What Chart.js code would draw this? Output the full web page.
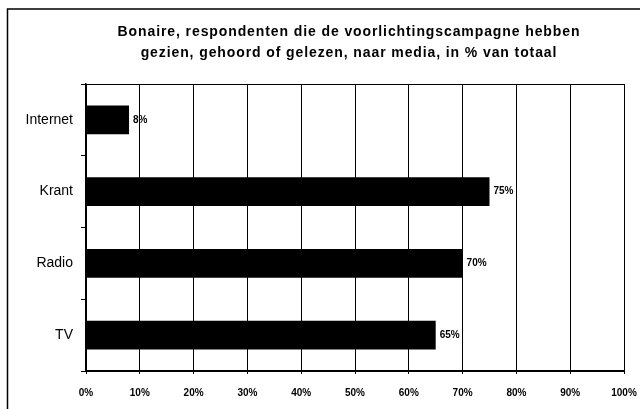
<!DOCTYPE html>
<html>
<head>
<meta charset="utf-8">
<script src="https://cdn.jsdelivr.net/npm/chart.js@4"></script>
<style>
  html, body { margin: 0; padding: 0; background: #fff; }
  #wrap { width: 640px; height: 409px; }
</style>
</head>
<body>
<div id="wrap"><canvas id="mediaChart" width="640" height="409"></canvas></div>
<script>
const titleLines = [
    'Bonaire, respondenten die de voorlichtingscampagne hebben',
    'gezien, gehoord of gelezen, naar media, in % van totaal'
];
const media = ['Internet', 'Krant', 'Radio', 'TV'];
const percentages = [8, 75, 70, 65];

// frame round the whole picture, top border of the plot, title and value labels
const extras = {
    id: 'extras',
    beforeDraw(chart) {
        const ctx = chart.ctx;
        ctx.save();
        ctx.strokeStyle = '#000';
        ctx.lineWidth = 1.5;
        ctx.beginPath();
        ctx.moveTo(7.5, 409);
        ctx.lineTo(7.5, 9);
        ctx.lineTo(640, 9);
        ctx.stroke();
        ctx.restore();
    },
    afterDraw(chart) {
        const ctx = chart.ctx;
        const area = chart.chartArea;
        ctx.save();
        ctx.strokeStyle = '#000';
        ctx.lineWidth = 1;
        ctx.beginPath();
        ctx.moveTo(area.left, area.top + 0.5);
        ctx.lineTo(area.right, area.top + 0.5);
        ctx.stroke();

        ctx.fillStyle = '#000';
        ctx.textAlign = 'center';
        ctx.textBaseline = 'middle';
        ctx.font = 'bold 14px Arial, "Liberation Sans", sans-serif';
        ctx.letterSpacing = '0.9px';
        const cx = (area.left + area.right) / 2 - 6;
        ctx.fillText(titleLines[0], cx, 32);
        ctx.fillText(titleLines[1], cx, 53);

        ctx.letterSpacing = '0px';
        ctx.font = 'bold 10px Arial, "Liberation Sans", sans-serif';
        ctx.textAlign = 'left';
        chart.getDatasetMeta(0).data.forEach((bar, i) => {
            ctx.fillText(percentages[i] + '%', bar.x + 4, bar.y);
        });
        ctx.restore();
    }
};

new Chart(document.getElementById('mediaChart').getContext('2d'), {
    type: 'bar',
    data: {
        labels: media,
        datasets: [{
            data: percentages,
            backgroundColor: '#000',
            borderWidth: 0,
            barPercentage: 0.4,
            categoryPercentage: 1
        }]
    },
    options: {
        indexAxis: 'y',
        responsive: false,
        animation: false,
        layout: { padding: { left: 8, right: 16, top: 84, bottom: 0 } },
        plugins: {
            legend: { display: false },
            title: { display: false },
            tooltip: { enabled: false }
        },
        scales: {
            x: {
                min: 0,
                max: 100,
                afterFit(scale) {
                    scale.height = 38;
                    scale.paddingLeft = 0;
                    scale.paddingRight = 0;
                },
                ticks: {
                    stepSize: 10,
                    padding: 13,
                    color: '#000',
                    font: { family: 'Arial, "Liberation Sans", sans-serif', size: 10, weight: 'bold' },
                    callback: v => v + '%'
                },
                grid: { color: '#000', lineWidth: 1, tickLength: 3 },
                border: { color: '#000', width: 2 }
            },
            y: {
                afterFit(scale) {
                    scale.width = 78;
                    scale.paddingTop = 0;
                    scale.paddingBottom = 0;
                },
                ticks: {
                    padding: 8,
                    color: '#000',
                    font: { family: 'Arial, "Liberation Sans", sans-serif', size: 14 }
                },
                grid: {
                    offset: true,
                    drawOnChartArea: false,
                    color: '#000',
                    tickLength: 5
                },
                border: { color: '#000', width: 1.5 }
            }
        }
    },
    plugins: [extras]
});
</script>
</body>
</html>
